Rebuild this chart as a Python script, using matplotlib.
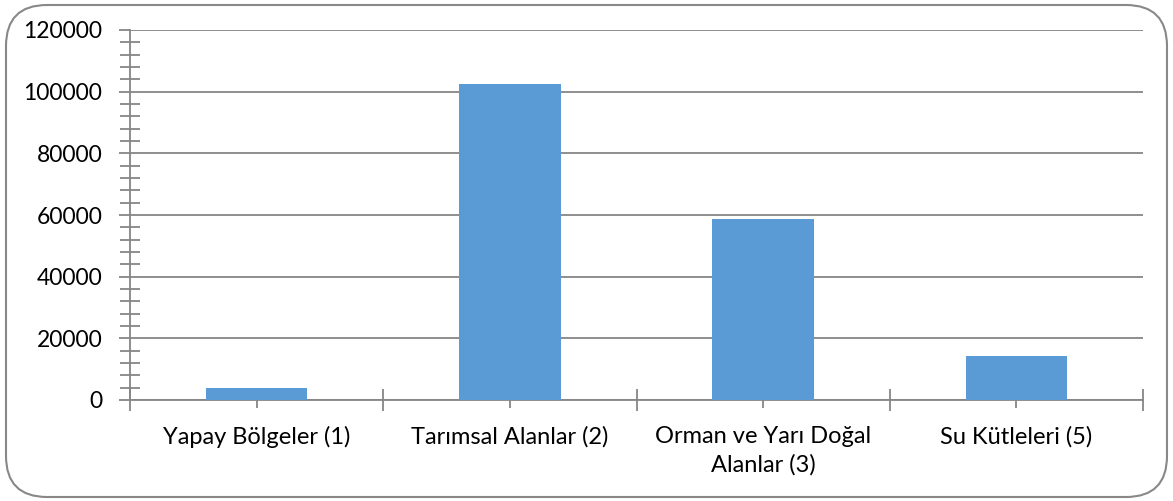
import matplotlib
matplotlib.use("Agg")
import matplotlib.pyplot as plt
from matplotlib.patches import FancyBboxPatch
from matplotlib.ticker import MultipleLocator, FixedLocator, NullFormatter
import numpy as np

categories = ["Yapay Bölgeler (1)", "Tarımsal Alanlar (2)",
              "Orman ve Yarı Doğal\nAlanlar (3)", "Su Kütleleri (5)"]
values = [3800, 102600, 58700, 14300]

plt.rcParams['font.family'] = ['Lato', 'DejaVu Sans']

fig = plt.figure(figsize=(11.73, 5.01), dpi=100)
ax = fig.add_axes([130/1173, 1 - 400/501, (1143 - 130)/1173, (400 - 30)/501])

x = np.arange(len(categories))
ax.bar(x, values, width=0.4, color='#5B9BD5', zorder=3)

ax.set_xlim(-0.5, len(categories) - 0.5)
ax.set_ylim(0, 120000)

ax.yaxis.set_major_locator(MultipleLocator(20000))
ax.yaxis.set_minor_locator(MultipleLocator(4000))
ax.grid(axis='y', which='major', color='#868686', linewidth=1.3, zorder=0)

ax.xaxis.set_major_locator(FixedLocator(np.arange(-0.5, len(categories), 1.0)))
ax.xaxis.set_major_formatter(NullFormatter())
ax.xaxis.set_minor_locator(FixedLocator(x))
ax.set_xticks(x, categories, minor=True)
for lbl in ax.get_xticklabels(minor=True):
    lbl.set_linespacing(1.4)

gray = '#868686'
ax.tick_params(axis='y', which='major', direction='out', length=8, width=1.3,
               color=gray, labelsize=16.5, pad=12, labelcolor='#000000')
ax.tick_params(axis='y', which='minor', direction='inout', length=14, width=1.3, color=gray)
ax.tick_params(axis='x', which='major', direction='inout', length=16, width=1.3, color=gray)
ax.tick_params(axis='x', which='minor', direction='inout', length=12, width=1.3,
               color=gray, labelsize=17, pad=13)

for side in ['top', 'right']:
    ax.spines[side].set_visible(False)
for side in ['left', 'bottom']:
    ax.spines[side].set_color(gray)
    ax.spines[side].set_linewidth(1.3)

border = FancyBboxPatch((6/1173, 4/501), 1161/1173, 492/501,
                        boxstyle="round,pad=0,rounding_size=0.035",
                        transform=fig.transFigure, facecolor='none',
                        edgecolor='#888888', linewidth=1.5, mutation_aspect=1173/501)
fig.patches.append(border)

fig.savefig("out.png", dpi=100)
